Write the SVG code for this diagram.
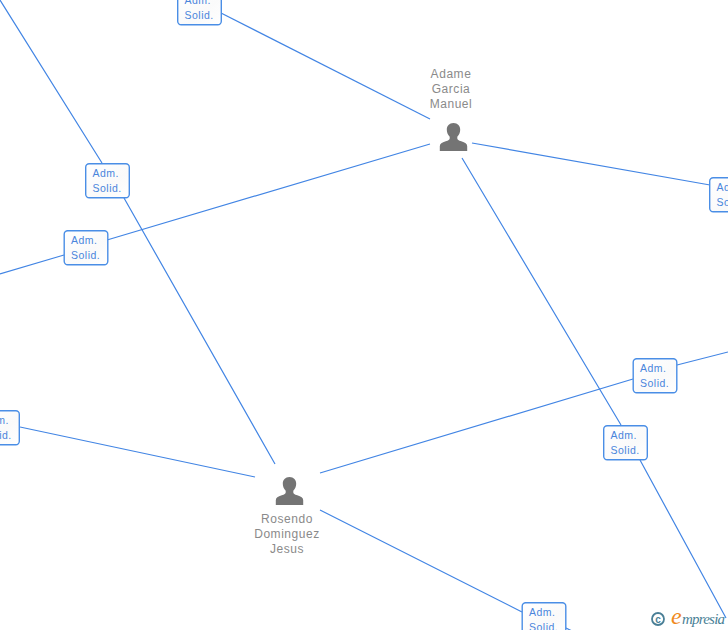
<svg xmlns="http://www.w3.org/2000/svg" width="728" height="630" viewBox="0 0 728 630">
<style>
.c{fill:none;stroke:#4285e4;stroke-width:1.200}
.b{fill:url(#g);stroke:#4a8ee6;stroke-width:1.400}
.t{font-family:"Liberation Sans",Arial,sans-serif;font-size:10.500px;fill:#4a85dc;letter-spacing:.5px}
.n{font-family:"Liberation Sans",Arial,sans-serif;font-size:12px;fill:#8a8a8a;text-anchor:middle;letter-spacing:.55px}
.p{fill:#747474}
</style>
<defs>
<linearGradient id="g" x1="0" y1="0" x2="1" y2="1"><stop offset="0" stop-color="#fff"/><stop offset=".6" stop-color="#fafafa"/><stop offset="1" stop-color="#fff"/></linearGradient>
<g id="person"><path class="p" d="M0-15.500c4.300 0 6.700 3 6.700 6.700 0 2.800-1.200 5.400-2.900 7v1.800c0 1.300 1.300 2 4 2.800 3.800 1.100 5.900 2.400 5.900 5v4.700h-27.400v-4.700c0-2.600 2.100-3.900 5.900-5 2.700-.8 4-1.500 4-2.800v-1.800c-1.700-1.600-2.900-4.200-2.900-7 0-3.700 2.400-6.700 6.700-6.700z"/></g>
<g id="box"><rect class="b" x=".7" y=".7" width="43.600" height="34" rx="3.500"/><text class="t" x="7.500" y="13.500">Adm.</text><text class="t" x="7.500" y="28.500">Solid.</text></g>
</defs>
<g id="connectors">
<path class="c" d="M221 13L430 119"/>
<path class="c" d="M472 143L710 185"/>
<path class="c" d="M430 144L107 240M64 255L0 274"/>
<path class="c" d="M462 158L621 425M640 460L726 618"/>
<path class="c" d="M0 0L102 163M124 198L275 464"/>
<path class="c" d="M20 427L255 477"/>
<path class="c" d="M320 473L633 379M677 365L728 352"/>
<path class="c" d="M320 510L522 612M566 628L572 631"/>
</g>
<g id="node-adame"><use href="#person" x="453.500" y="138.500"/><text class="n" x="451" y="78">Adame</text><text class="n" x="451" y="93">Garcia</text><text class="n" x="451" y="108">Manuel</text></g>
<g id="node-rosendo"><use href="#person" x="289.500" y="492.500"/><text class="n" x="287" y="523">Rosendo</text><text class="n" x="287" y="538">Dominguez</text><text class="n" x="287" y="553">Jesus</text></g>
<g id="box1"><use href="#box" x="177" y="-10"/></g>
<g id="box2"><use href="#box" x="85" y="163"/></g>
<g id="box3"><use href="#box" x="63.500" y="230"/></g>
<g id="box4"><use href="#box" x="-25" y="410"/></g>
<g id="box5"><use href="#box" x="709" y="177"/></g>
<g id="box6"><use href="#box" x="632.500" y="358"/></g>
<g id="box7"><use href="#box" x="603" y="425"/></g>
<g id="box8"><use href="#box" x="521.500" y="602"/></g>
<g id="logo">
<circle cx="658" cy="619" r="6" fill="none" stroke="#4a7f96" stroke-width="1.800"/>
<text x="658" y="622.500" font-family="'Liberation Sans',sans-serif" font-size="10" font-weight="bold" fill="#4a7f96" text-anchor="middle">c</text>
<text x="671" y="624" font-family="'Liberation Serif',serif" font-style="italic" font-size="24" fill="#f08a1d">e</text>
<text x="682" y="624" font-family="'Liberation Serif',serif" font-style="italic" font-size="15" fill="#4a7f96" textLength="43">mpresia</text>
</g>
</svg>
